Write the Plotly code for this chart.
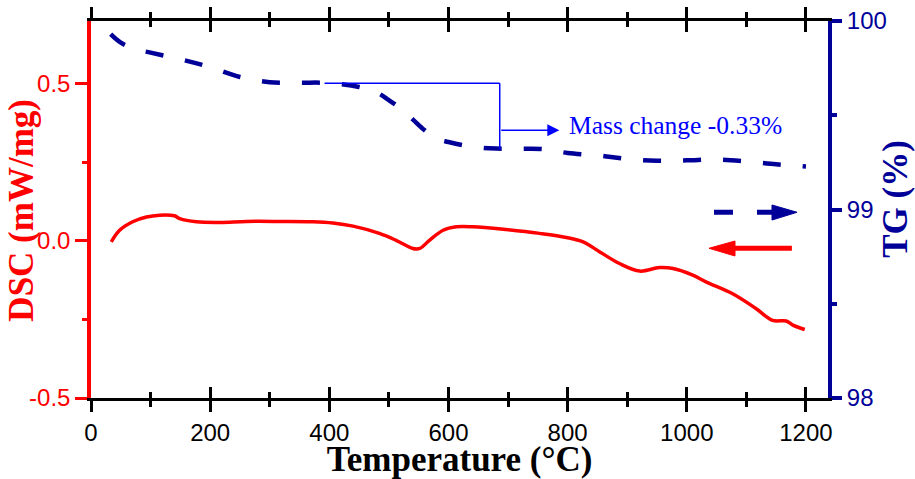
import plotly.graph_objects as go

# ---- data ----
T_dsc = [34, 48, 70, 93, 115, 140, 149, 177, 216, 261, 317, 372, 406, 440, 484, 512, 540,
         552, 568, 591, 613, 641, 697, 753, 798, 826, 854, 887, 921, 954, 977, 1010, 1033,
         1077, 1116, 1144, 1167, 1178, 1198]
DSC = [-0.003, 0.034, 0.061, 0.076, 0.082, 0.080, 0.071, 0.061, 0.059, 0.062, 0.062, 0.061,
       0.057, 0.047, 0.024, 0.002, -0.024, -0.024, 0.002, 0.034, 0.045, 0.045, 0.036, 0.024,
       0.011, -0.003, -0.035, -0.072, -0.096, -0.085, -0.088, -0.109, -0.131, -0.168, -0.215,
       -0.253, -0.255, -0.268, -0.282]

T_tg = [33, 50, 75, 100, 150, 200, 250, 300, 350, 400, 450, 480, 500, 520, 540, 560, 580,
        600, 640, 680, 720, 760, 800, 850, 900, 950, 1000, 1050, 1100, 1150, 1200]
TG = [99.93, 99.885, 99.85, 99.832, 99.797, 99.755, 99.703, 99.675, 99.673, 99.671, 99.65,
      99.62, 99.58, 99.535, 99.478, 99.42, 99.375, 99.358, 99.333, 99.323, 99.322, 99.32,
      99.30, 99.287, 99.268, 99.259, 99.261, 99.265, 99.255, 99.24, 99.228]

x_ticks = [0, 200, 400, 600, 800, 1000, 1200]
dsc_ticks = [-0.5, 0.0, 0.5]
dsc_ticktext = ["-0.5", "0.0", "0.5"]
tg_ticks = [98, 99, 100]

# annotation bracket (mass change levels)
tg_high, tg_low = 99.67, 99.32
bracket_x0, bracket_x1, arrow_end, label_x = 392, 686, 786, 799
arrow_y, label_y = 99.42, 99.447

RED = "#FF0000"
DBLUE = "#000099"
BLUE = "#0000FF"
XMAX = 1237

fig = go.Figure()
fig.add_trace(go.Scatter(x=T_tg, y=TG, xaxis="x", yaxis="y2", mode="lines",
                         line=dict(color=DBLUE, width=4.5, dash="18px,22px", shape="spline"),
                         showlegend=False, hoverinfo="skip"))
fig.add_trace(go.Scatter(x=T_dsc, y=DSC, xaxis="x", yaxis="y", mode="lines",
                         line=dict(color=RED, width=3.5, shape="spline"),
                         showlegend=False, hoverinfo="skip"))
# dummy trace for the inside-tick overlay axis
fig.add_trace(go.Scatter(x=[None], y=[None], xaxis="x3", yaxis="y", showlegend=False,
                         hoverinfo="skip"))

tickfont = dict(family="Liberation Sans, Arial", size=24)
titlefont = dict(family="Liberation Serif, Times New Roman", size=35)

fig.update_layout(
    width=915, height=479,
    margin=dict(l=91, r=87, t=21, b=81, autoexpand=False),
    plot_bgcolor="white", paper_bgcolor="white",
    xaxis=dict(range=[0, XMAX], tickmode="linear", tick0=0, dtick=200, automargin=False,
               ticks="outside", ticklen=11, tickwidth=2.5, tickcolor="black",
               showline=True, linecolor="black", linewidth=2.5, mirror="ticks",
               showgrid=False, zeroline=False,
               tickfont=dict(color="black", **tickfont),
               minor=dict(tick0=0, dtick=100, ticks="outside", ticklen=6, tickwidth=2.5,
                          tickcolor="black", showgrid=False),
               title=dict(text="<b>Temperature (°C)</b>", font=dict(color="black", **titlefont),
                          standoff=2)),
    xaxis3=dict(range=[0, XMAX], overlaying="x", anchor="y", tickmode="linear", tick0=0,
                dtick=200, ticks="inside", ticklen=11, tickwidth=2.5, tickcolor="black",
                showline=False, mirror="ticks", showticklabels=False, showgrid=False,
                zeroline=False, automargin=False,
                minor=dict(tick0=0, dtick=100, ticks="inside", ticklen=6, tickwidth=2.5,
                           tickcolor="black", showgrid=False)),
    yaxis=dict(range=[-0.5, 0.7], tickmode="array", tickvals=dsc_ticks, ticktext=dsc_ticktext,
               ticks="outside", ticklen=12, tickwidth=3, tickcolor=RED, automargin=False,
               showline=True, linecolor=RED, linewidth=3.5, showgrid=False, zeroline=False,
               tickfont=dict(color=RED, **tickfont),
               minor=dict(tickmode="array", tickvals=[-0.25, 0.25], ticks="outside", ticklen=5,
                          tickwidth=3, tickcolor=RED, showgrid=False)),
    yaxis2=dict(range=[98, 100], overlaying="y", side="right", anchor="x", automargin=False,
                tickmode="array", tickvals=tg_ticks,
                ticks="outside", ticklen=10, tickwidth=3.5, tickcolor=DBLUE,
                showline=True, linecolor=DBLUE, linewidth=4, showgrid=False, zeroline=False,
                tickfont=dict(color=DBLUE, **tickfont),
                minor=dict(tickmode="array", tickvals=[98.5, 99.5], ticks="outside", ticklen=5,
                           tickwidth=3.5, tickcolor=DBLUE, showgrid=False)),
)

shapes = [
    # mass-change bracket
    dict(type="line", xref="x", yref="y2", x0=bracket_x0, x1=bracket_x1, y0=tg_high, y1=tg_high,
         line=dict(color=BLUE, width=1.5)),
    dict(type="line", xref="x", yref="y2", x0=bracket_x1, x1=bracket_x1, y0=tg_high, y1=tg_low,
         line=dict(color=BLUE, width=1.5)),
    # blue dashed indicator arrow (points to right axis)
    dict(type="line", xref="paper", yref="paper", x0=0.8453, x1=0.9294, y0=0.4926, y1=0.4926,
         line=dict(color=DBLUE, width=5, dash="19px,24px")),
    dict(type="path", xref="paper", yref="paper",
         path="M 0.924 0.512 L 0.958 0.4926 L 0.924 0.472 Z",
         fillcolor=DBLUE, line=dict(color=DBLUE, width=1)),
    # red indicator arrow (points to left axis)
    dict(type="line", xref="paper", yref="paper", x0=0.867, x1=0.951, y0=0.3971, y1=0.3971,
         line=dict(color=RED, width=5)),
    dict(type="path", xref="paper", yref="paper",
         path="M 0.8738 0.4164 L 0.8385 0.3971 L 0.8738 0.3767 Z",
         fillcolor=RED, line=dict(color=RED, width=1)),
]
fig.update_layout(shapes=shapes)

annotations = [
    dict(x=arrow_end, y=arrow_y, xref="x", yref="y2", ax=bracket_x1, ay=arrow_y,
         axref="x", ayref="y2", showarrow=True, arrowhead=2, arrowsize=1.6, arrowwidth=1.5,
         arrowcolor=BLUE, text=""),
    dict(x=label_x, y=label_y, xref="x", yref="y2", xanchor="left", yanchor="middle",
         showarrow=False, text="Mass change -0.33%",
         font=dict(family="Liberation Serif, Times New Roman", size=25.5, color=BLUE)),
    dict(x=-0.0936, y=0.497, xref="paper", yref="paper", xanchor="center", yanchor="middle",
         textangle=-90, showarrow=False, text="<b>DSC (mW/mg)</b>",
         font=dict(color=RED, **titlefont)),
    dict(x=1.092, y=0.528, xref="paper", yref="paper", xanchor="center", yanchor="middle",
         textangle=-90, showarrow=False, text="<b>TG (%)</b>",
         font=dict(color=DBLUE, **titlefont)),
]
fig.update_layout(annotations=annotations)

fig.write_html("out.html", config={"displayModeBar": False},
               post_script="document.body.style.margin='0px';")
